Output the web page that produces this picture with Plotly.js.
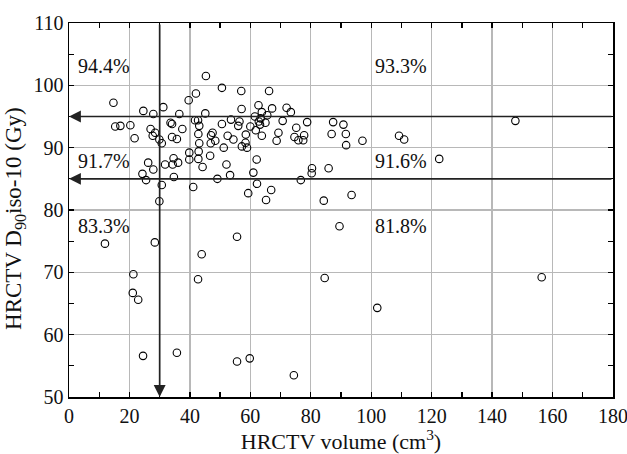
<!DOCTYPE html>
<html>
<head>
<meta charset="utf-8">
<script src="https://cdn.plot.ly/plotly-3.0.1.min.js"></script>
<style>html,body{margin:0;padding:0;background:#fff;}#chart{width:627px;height:454px;}</style>
</head>
<body>
<div id="chart"></div>
<script>
// HRCTV volume (cm3)
const volume = [
 14.7,45.3,50.6,57.0,42.0,39.6,57.1,62.7,24.6,27.9,31.2,36.5,45.1,15.3,17.0,20.3,21.7,27.0,27.7,28.5,
 29.9,30.7,33.6,34.1,37.5,34.1,35.7,41.7,42.7,43.1,42.8,43.1,47.0,47.5,46.9,48.4,50.6,53.6,56.4,56.0,
 52.5,54.4,51.2,57.2,58.4,58.9,58.5,60.0,61.5,61.8,66.2,67.2,72.0,73.4,63.8,63.4,65.6,62.8,65.0,70.7,
 78.8,63.2,75.2,69.3,63.8,68.7,74.6,77.8,75.9,77.5,87.4,90.8,86.9,91.6,91.7,97.1,109.2,110.9,147.7,
 46.7,39.8,42.9,26.2,24.3,25.5,27.9,31.8,34.3,34.6,36.1,34.7,39.8,42.8,44.2,49.1,52.1,53.3,30.7,41.1,
 29.9,59.3,61.0,62.2,62.1,80.4,80.3,85.9,76.7,66.9,65.2,84.3,93.5,122.5,
 11.9,28.4,55.6,43.9,21.3,42.7,21.1,22.9,24.5,35.7,55.6,59.8,89.5,84.6,102.0,74.4,156.4
];
// HRCTV D90 iso-10 (Gy)
const dose = [
 97.2,101.5,99.6,99.1,98.7,97.6,96.2,96.8,95.9,95.4,96.5,95.4,95.5,93.4,93.5,93.6,91.5,93.0,91.9,92.4,
 91.3,90.7,94.0,93.8,93.0,91.7,91.4,94.4,94.4,93.5,92.2,90.7,92.0,92.4,90.7,91.1,93.8,94.5,94.2,93.5,
 91.9,91.3,90.0,90.2,90.8,90.0,92.1,93.4,95.0,92.8,99.1,96.3,96.4,95.7,95.7,94.7,95.2,94.2,94.0,94.3,
 94.1,93.7,93.2,92.4,91.9,91.1,91.7,92.0,91.2,91.2,94.1,93.7,92.2,92.2,90.4,91.1,91.9,91.3,94.3,
 88.7,89.2,89.4,87.6,85.8,84.8,86.5,87.3,87.3,88.3,87.6,85.3,88.1,88.2,86.9,85.0,87.3,85.6,84.0,83.7,
 81.4,82.7,86.0,84.2,88.1,86.7,85.9,86.7,84.8,83.2,81.6,81.5,82.4,88.2,
 74.6,74.8,75.7,72.9,69.7,68.9,66.7,65.6,56.6,57.1,55.7,56.2,77.4,69.1,64.3,53.5,69.2
];
// Thresholds and quadrant percentages
const volumeThreshold = 30;
const doseThresholds = [95, 85];
const leftPercents = ['94.4%', '91.7%', '83.3%'];
const rightPercents = ['93.3%', '91.6%', '81.8%'];
const percentLabelY = [103.1, 87.9, 77.5];
const xTickVals = [0, 20, 40, 60, 80, 100, 120, 140, 160, 180];

const FONT = 'Liberation Serif';
const xRange = [0, 180], yRange = [50, 110];

const trace = {
  x: volume, y: dose, type: 'scatter', mode: 'markers',
  marker: {symbol: 'circle-open', size: 7.5, color: '#000', line: {width: 1.1, color: '#000'}},
  hoverinfo: 'x+y', showlegend: false
};

const annotations = [];
doseThresholds.forEach(t => {
  annotations.push({x: xRange[0], y: t, ax: xRange[1], ay: t, xref: 'x', yref: 'y', axref: 'x', ayref: 'y',
    text: '', showarrow: true, arrowhead: 2, arrowsize: 1.4, arrowwidth: 1.7, arrowcolor: '#222', standoff: 0});
});
annotations.push({x: volumeThreshold, y: yRange[0], ax: volumeThreshold, ay: yRange[1], xref: 'x', yref: 'y', axref: 'x', ayref: 'y',
  text: '', showarrow: true, arrowhead: 2, arrowsize: 1.4, arrowwidth: 1.7, arrowcolor: '#222', standoff: 0});
leftPercents.forEach((p, i) => annotations.push({x: 2.3, y: percentLabelY[i], xref: 'x', yref: 'y', text: p, showarrow: false,
  xanchor: 'left', yanchor: 'middle', font: {family: FONT, size: 20, color: '#111'}}));
rightPercents.forEach((p, i) => annotations.push({x: 100.5, y: percentLabelY[i], xref: 'x', yref: 'y', text: p, showarrow: false,
  xanchor: 'left', yanchor: 'middle', font: {family: FONT, size: 20, color: '#111'}}));

const axisCommon = {
  showline: true, linecolor: '#000', linewidth: 1.5, mirror: 'ticks',
  ticks: 'inside', ticklen: 5, tickwidth: 1.3, tickcolor: '#000',
  showgrid: true, gridcolor: '#b8b8b8', gridwidth: 1.3, zeroline: false,
  ticklabeloverflow: 'allow',
  tickfont: {family: FONT, size: 20, color: '#111'}
};

const layout = {
  width: 627, height: 454,
  margin: {l: 69, r: 14, t: 23, b: 57},
  paper_bgcolor: '#fff', plot_bgcolor: '#fff',
  font: {family: FONT, color: '#111', size: 20},
  xaxis: Object.assign({}, axisCommon, {
    range: xRange, tickmode: 'array', tickvals: xTickVals, ticktext: xTickVals.map(String),
    minor: {dtick: 10, tick0: 0, ticks: 'inside', ticklen: 5, tickwidth: 1.3, tickcolor: '#000', showgrid: false},
    title: {text: 'HRCTV volume (cm<sup>3</sup>)', font: {family: FONT, size: 22, color: '#111'}, standoff: 3}
  }),
  yaxis: Object.assign({}, axisCommon, {
    range: yRange, dtick: 10, tick0: 50,
    minor: {dtick: 5, ticks: 'inside', ticklen: 5, tickwidth: 1.3, tickcolor: '#000', showgrid: false},
    title: {text: 'HRCTV D<sub>90</sub>iso-10 (Gy)&nbsp;&nbsp;&nbsp;', font: {family: FONT, size: 23, color: '#111'}, standoff: 5}
  }),
  annotations: annotations,
  showlegend: false
};

Plotly.newPlot('chart', [trace], layout, {displayModeBar: false, staticPlot: true});
</script>
</body>
</html>
